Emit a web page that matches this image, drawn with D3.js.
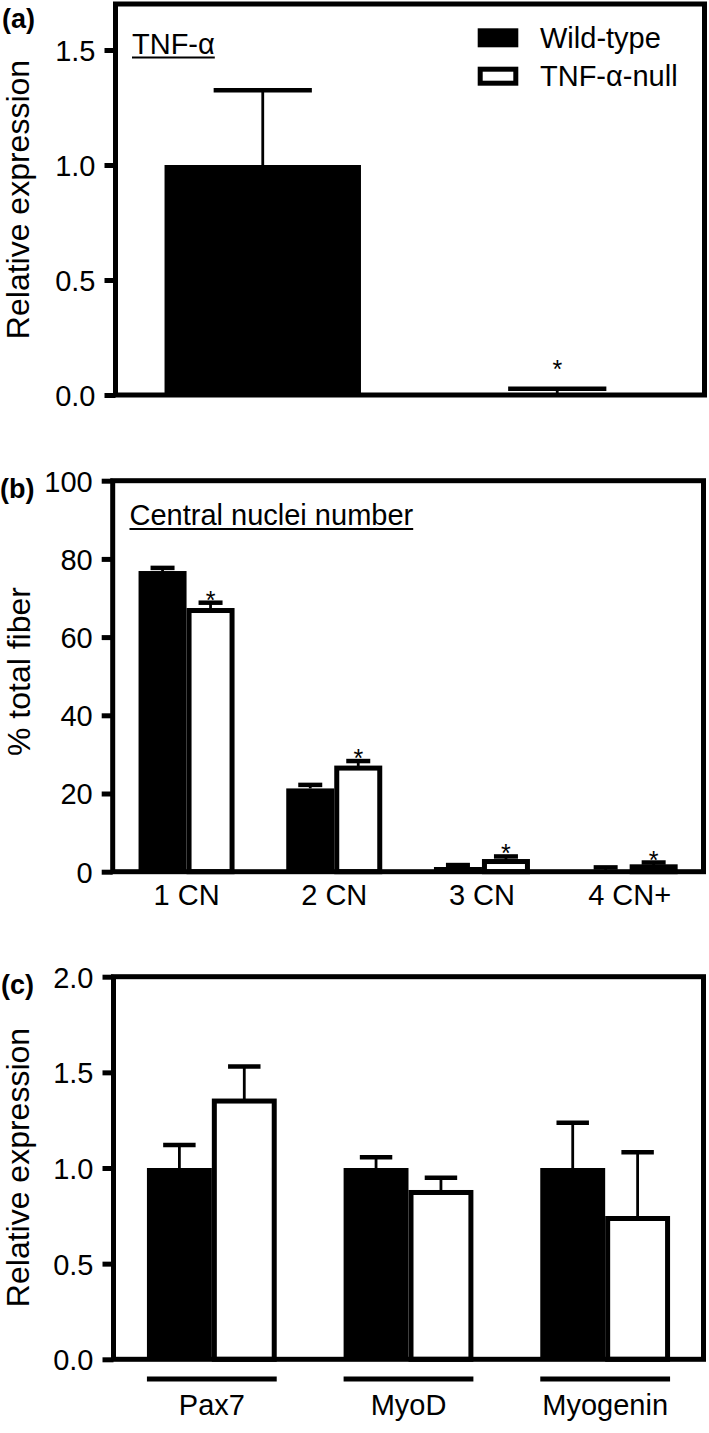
<!DOCTYPE html>
<html><head><meta charset="utf-8">
<script src="https://cdn.jsdelivr.net/npm/d3@7"></script>
<style>
body{margin:0;background:#fff}
svg{display:block}
text{font-family:"Liberation Sans",Arial,Helvetica,sans-serif;fill:#000}
</style>
</head><body>
<svg id="chart" width="709" height="1433"></svg>
<script>
// ---------- DATA ----------
const series = ["Wild-type", "TNF-α-null"];

// Panel (a) TNF-α
const aGroups = ["Wild-type", "TNF-α-null"];
const aMean = [1.0, 0.0];
const aErr = [0.325, 0.027];
const aSig = [false, true];
const aTicks = [0, 0.5, 1.0, 1.5];

// Panel (b) Central nuclei number
const bCategories = ["1 CN", "2 CN", "3 CN", "4 CN+"];
const bWT = [76.9, 21.3, 1.2, 0.3];
const bWTErr = [0.8, 0.9, 0.5, 0.8];
const bNull = [66.8, 26.5, 2.6, 1.25];
const bNullErr = [2.0, 1.8, 1.3, 1.1];
const bSig = [true, true, true, true];
const bTicks = [0, 20, 40, 60, 80, 100];

// Panel (c) myogenic genes
const cCategories = ["Pax7", "MyoD", "Myogenin"];
const cWT = [1.0, 1.0, 1.0];
const cWTErr = [0.12, 0.056, 0.237];
const cNull = [1.35, 0.872, 0.736];
const cNullErr = [0.18, 0.077, 0.346];
const cTicks = [0, 0.5, 1.0, 1.5, 2.0];

// ---------- DRAWING ----------
const K = 1.0;
const FONT = 29;
const svg = d3.select("#chart");

function txt(g, x, y, s, o = {}) {
  return g.append("text")
    .attr("transform", `translate(${x},${y}) scale(1,${K})`)
    .attr("font-size", o.size || FONT)
    .attr("font-weight", o.weight || "normal")
    .attr("text-anchor", o.anchor || "start")
    .text(s);
}
function vtxt(g, x, y, s, size) {
  return g.append("text")
    .attr("transform", `translate(${x},${y}) rotate(-90)`)
    .attr("font-size", size)
    .attr("text-anchor", "middle")
    .text(s);
}

function panelFrame(g, y, left, right, ticks, fmt) {
  const ax = d3.axisLeft(y).tickValues(ticks).tickFormat(fmt).tickSize(11).tickPadding(9);
  const ag = g.append("g").attr("transform", `translate(${left},0)`).call(ax);
  ag.select(".domain").remove();
  ag.selectAll(".tick line").attr("stroke", "#000").attr("stroke-width", 5);
  ag.selectAll(".tick text")
    .attr("font-size", FONT)
    .attr("font-family", '"Liberation Sans",Arial,sans-serif')
    .attr("fill", "#000")
    .attr("dy", "0.36em");
  const [y0, y1] = y.range();
  g.append("rect")
    .attr("x", left).attr("y", y1)
    .attr("width", right - left).attr("height", y0 - y1)
    .attr("fill", "none").attr("stroke", "#000").attr("stroke-width", 5);
}

function bar(g, x, w, y, v, filled) {
  const y0 = y(0);
  if (filled) {
    g.append("rect").attr("x", x).attr("y", y(v)).attr("width", w)
      .attr("height", Math.max(0, y0 - y(v))).attr("fill", "#000");
  } else {
    g.append("rect").attr("x", x + 2.5).attr("y", y(v)).attr("width", w - 5)
      .attr("height", Math.max(0, y0 - y(v))).attr("fill", "#fff")
      .attr("stroke", "#000").attr("stroke-width", 5);
  }
}
function errBar(g, cx, y, v, e, capW) {
  g.append("line").attr("x1", cx).attr("x2", cx).attr("y1", y(v)).attr("y2", y(v + e))
    .attr("stroke", "#000").attr("stroke-width", 2.8);
  g.append("line").attr("x1", cx - capW / 2).attr("x2", cx + capW / 2)
    .attr("y1", y(v + e)).attr("y2", y(v + e))
    .attr("stroke", "#000").attr("stroke-width", 4.5);
}
function star(g, cx, yb) {
  txt(g, cx, yb, "*", { size: 25, anchor: "middle" });
}

// ---------- Panel (a) ----------
{
  const g = svg.append("g");
  const left = 115.5, right = 704.5;
  const y = d3.scaleLinear().domain([0, 1.7]).range([395, 4]);
  const x = d3.scaleBand().domain(aGroups).range([left, right]).paddingInner(0.333).paddingOuter(0.1665);
  aGroups.forEach((k, i) => {
    const bx = x(k), bw = x.bandwidth();
    bar(g, bx, bw, y, aMean[i], i === 0);
    errBar(g, bx + bw / 2, y, aMean[i], aErr[i], bw / 2);
    if (aSig[i]) star(g, bx + bw / 2, y(aMean[i] + aErr[i]) - 11);
  });
  panelFrame(g, y, left, right, aTicks, d3.format(".1f"));
  txt(g, 2, 28, "(a)", { weight: "bold", size: 27 });
  vtxt(g, 29, 199.5, "Relative expression", 32);
  const t = txt(g, 132, 54, "TNF-α");
  const tw = t.node().getComputedTextLength();
  g.append("line").attr("x1", 132).attr("x2", 132 + tw).attr("y1", 57.5).attr("y2", 57.5)
    .attr("stroke", "#000").attr("stroke-width", 2);
  // legend
  const lg = g.append("g");
  series.forEach((s, i) => {
    const ly = [28.3, 66.7][i];
    if (i === 0) {
      lg.append("rect").attr("x", 477.7).attr("y", ly).attr("width", 40.6).attr("height", 19).attr("fill", "#000");
    } else {
      lg.append("rect").attr("x", 480.2).attr("y", ly + 2.5).attr("width", 35.6).attr("height", 14)
        .attr("fill", "#fff").attr("stroke", "#000").attr("stroke-width", 5);
    }
    txt(lg, 540, ly + 19.5, s);
  });
}

// ---------- Panel (b) ----------
{
  const g = svg.append("g");
  const left = 112.7, right = 703.5;
  const y = d3.scaleLinear().domain([0, 100]).range([871.7, 480.7]);
  const x0 = d3.scaleBand().domain(bCategories).range([left, right]).paddingInner(0.35).paddingOuter(0.175);
  const x1 = d3.scaleBand().domain(series).range([0, x0.bandwidth()]);
  bCategories.forEach((c, i) => {
    const gx = x0(c), w = x1.bandwidth();
    const vals = [[bWT[i], bWTErr[i]], [bNull[i], bNullErr[i]]];
    vals.forEach(([v, e], j) => {
      const bx = gx + x1(series[j]);
      bar(g, bx, w, y, v, j === 0);
      errBar(g, bx + w / 2, y, v, e, w / 2);
    });
    if (bSig[i]) star(g, gx + x1(series[1]) + w / 2, y(bNull[i] + bNullErr[i]) + 6);
    txt(g, gx + x0.bandwidth() / 2, 905, c, { anchor: "middle" });
  });
  panelFrame(g, y, left, right, bTicks, d3.format("d"));
  txt(g, 0, 498, "(b)", { weight: "bold", size: 27 });
  vtxt(g, 30, 671.5, "% total fiber", 32);
  const t = txt(g, 129.5, 525, "Central nuclei number");
  const tw = t.node().getComputedTextLength();
  g.append("line").attr("x1", 129.5).attr("x2", 129.5 + tw).attr("y1", 529).attr("y2", 529)
    .attr("stroke", "#000").attr("stroke-width", 2);
}

// ---------- Panel (c) ----------
{
  const g = svg.append("g");
  const left = 113.5, right = 703.5;
  const y = d3.scaleLinear().domain([0, 2]).range([1359.3, 976.7]);
  const x0 = d3.scaleBand().domain(cCategories).range([left, right]).paddingInner(0.34).paddingOuter(0.17);
  const x1 = d3.scaleBand().domain(series).range([0, x0.bandwidth()]);
  cCategories.forEach((c, i) => {
    const gx = x0(c), w = x1.bandwidth();
    const vals = [[cWT[i], cWTErr[i]], [cNull[i], cNullErr[i]]];
    vals.forEach(([v, e], j) => {
      const bx = gx + x1(series[j]);
      bar(g, bx, w, y, v, j === 0);
      errBar(g, bx + w / 2, y, v, e, w / 2);
    });
    g.append("line").attr("x1", gx).attr("x2", gx + x0.bandwidth()).attr("y1", 1379).attr("y2", 1379)
      .attr("stroke", "#000").attr("stroke-width", 5);
    txt(g, gx + x0.bandwidth() / 2, 1415, c, { anchor: "middle" });
  });
  panelFrame(g, y, left, right, cTicks, d3.format(".1f"));
  txt(g, 1, 994, "(c)", { weight: "bold", size: 27 });
  vtxt(g, 29, 1167.5, "Relative expression", 32);
}
</script>
</body></html>
